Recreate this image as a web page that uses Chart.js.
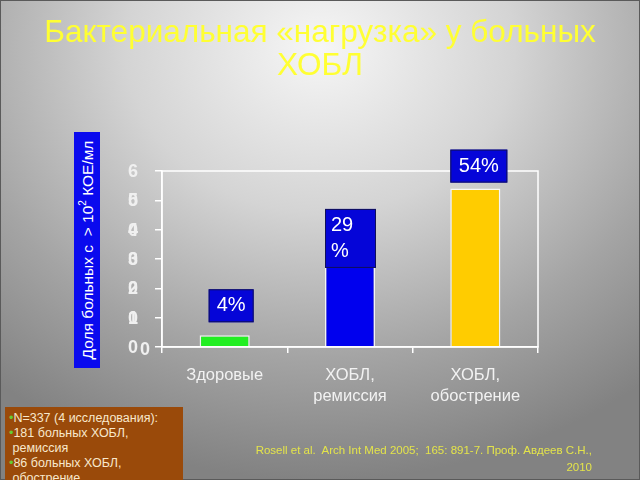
<!DOCTYPE html>
<html>
<head>
<meta charset="utf-8">
<script src="https://cdn.jsdelivr.net/npm/chart.js@4.4.0/dist/chart.umd.min.js"></script>
<style>
  html, body { margin: 0; padding: 0; }
  #stage {
    position: relative; width: 640px; height: 480px; overflow: hidden;
    background: radial-gradient(ellipse 80% 90% at 50% 10%, #f6f6f6 0%, #d4d4d4 38%, #a4a4a4 72%, #828282 100%);
    box-shadow: inset 0 0 0 1px #5a5a5a;
    font-family: "Liberation Sans", Arial, sans-serif;
  }
  #chart { position: absolute; left: 0; top: 0; }
  .title {
    position: absolute; left: 0; top: 15px; width: 640px; text-align: center;
    color: #ffff33; font-size: 31.5px; line-height: 33px;
  }
  .ytitle { position: absolute; left: 74px; top: 132px; width: 26px; height: 236px; background: #0a0aee; }
  .ytitle span {
    position: absolute; left: 13px; top: 118px; white-space: nowrap;
    transform: translate(-50%, -50%) rotate(-90deg);
    color: #fff; font-size: 15.5px;
  }
  .ytitle sup { font-size: 10px; }
  .note {
    position: absolute; left: 5px; top: 407px; width: 178px; height: 80px;
    background: #9a4a0a; color: #f8e8cc; font-size: 12.5px; line-height: 15px;
    padding: 4px 0 0 4px; box-sizing: border-box;
  }
  .note i { color: #66cc33; font-style: normal; }
  .cite {
    position: absolute; right: 48px; top: 442px; text-align: right;
    color: #e4e44a; font-size: 11.5px; line-height: 17px;
  }
</style>
</head>
<body>
<div id="stage">
  <canvas id="chart" width="640" height="480"></canvas>
  <div class="title">Бактериальная «нагрузка» у больных<br>ХОБЛ</div>
  <div class="ytitle"><span>Доля больных с &nbsp;&gt; 10<sup>2</sup> КОЕ/мл</span></div>
  <div class="note">
    <i>•</i>N=337 (4 исследования):<br>
    <i>•</i>181 больных ХОБЛ,<br>
    &nbsp;ремиссия<br>
    <i>•</i>86 больных ХОБЛ,<br>
    &nbsp;обострение
  </div>
  <div class="cite">Rosell et al.&nbsp; Arch Int Med 2005;&nbsp; 165: 891-7. Проф. Авдеев С.Н.,<br>2010</div>
</div>

<script>
// ---------- DATA ----------
const categories = [['Здоровые'], ['ХОБЛ,', 'ремиссия'], ['ХОБЛ,', 'обострение']];
const shares = [4, 29, 54];
const valueLabels = [['4%'], ['29', '%'], ['54%']];
const yTicks = [0, 10, 20, 30, 40, 50, 60];

// ---------- STYLE ----------
const barColors = ['#22ee22', '#0000ee', '#ffcc00'];
// label boxes, relative to bar centre x and bar top y
const labelBoxes = [
  { dx: -16, w: 45, dy: -46, h: 33, align: 'center' },
  { dx: -25, w: 51, dy: -53, h: 59, align: 'left' },
  { dx: -25, w: 57, dy: -39, h: 33, align: 'center' }
];

Chart.defaults.font.family = '"Liberation Sans", Arial, sans-serif';

// frame, stacked y labels, value boxes
const decor = {
  id: 'decor',
  afterDatasetsDraw(chart) {
    const { ctx, chartArea: a, scales: { y } } = chart;
    ctx.save();
    ctx.strokeStyle = '#ffffff';
    ctx.lineWidth = 1.5;
    ctx.strokeRect(a.left, a.top, a.right - a.left, a.bottom - a.top);

    // y tick labels (broken into two lines as in the slide)
    ctx.fillStyle = '#f0f0f0';
    ctx.textAlign = 'center';
    ctx.textBaseline = 'middle';
    ctx.font = 'bold 18px "Liberation Sans", Arial, sans-serif';
    yTicks.forEach((v, i) => {
      const py = y.getPixelForValue(v);
      if (v === 0) { ctx.fillText('0', 145, py + 3); return; }
      const s = String(v);
      const step = y.getPixelForValue(yTicks[i - 1]) - py;
      ctx.fillText(s[0], 133, py + 1);
      ctx.fillText(s.slice(1), 133, py + 1 + step);
    });

    // value boxes
    const meta = chart.getDatasetMeta(0);
    ctx.font = '20px "Liberation Sans", Arial, sans-serif';
    meta.data.forEach((bar, i) => {
      const b = labelBoxes[i];
      const x0 = bar.x + b.dx, y0 = bar.y + b.dy;
      ctx.fillStyle = '#0505d8';
      ctx.fillRect(x0, y0, b.w, b.h);
      ctx.strokeStyle = '#10105a';
      ctx.lineWidth = 1;
      ctx.strokeRect(x0 + 0.5, y0 + 0.5, b.w - 1, b.h - 1);
      ctx.fillStyle = '#ffffff';
      const lines = valueLabels[i];
      const lh = 26;
      lines.forEach((t, k) => {
        const ty = y0 + b.h / 2 + (k - (lines.length - 1) / 2) * lh;
        if (b.align === 'left') { ctx.textAlign = 'left'; ctx.fillText(t, x0 + 6, ty); }
        else { ctx.textAlign = 'center'; ctx.fillText(t, x0 + b.w / 2, ty); }
      });
    });
    ctx.restore();
  }
};

new Chart(document.getElementById('chart'), {
  type: 'bar',
  data: {
    labels: categories,
    datasets: [{
      data: shares,
      backgroundColor: barColors,
      borderColor: 'rgba(255,255,255,0.85)',
      borderWidth: 1.5,
      categoryPercentage: 1,
      barPercentage: 0.4
    }]
  },
  options: {
    responsive: false,
    animation: false,
    devicePixelRatio: 1,
    layout: { padding: { left: 0, top: 171, right: 102, bottom: 0 } },
    plugins: { legend: { display: false }, tooltip: { enabled: false } },
    scales: {
      x: {
        afterFit: s => { s.height = 133; },
        grid: { display: true, drawOnChartArea: false, drawTicks: true, tickLength: 6, color: '#ffffff', lineWidth: 1.5 },
        border: { color: '#ffffff', width: 1.5 },
        ticks: {
          color: '#f2f2f2', font: { size: 16.5, lineHeight: 1.27 }, padding: 12,
          maxRotation: 0, autoSkip: false
        }
      },
      y: {
        min: 0, max: 60,
        afterFit: s => { s.width = 162; },
        grid: { display: true, drawOnChartArea: false, drawTicks: true, tickLength: 7, color: '#ffffff', lineWidth: 1.5 },
        border: { color: '#ffffff', width: 1.5 },
        ticks: { display: false, stepSize: 10 }
      }
    }
  },
  plugins: [decor]
});
</script>
</body>
</html>
